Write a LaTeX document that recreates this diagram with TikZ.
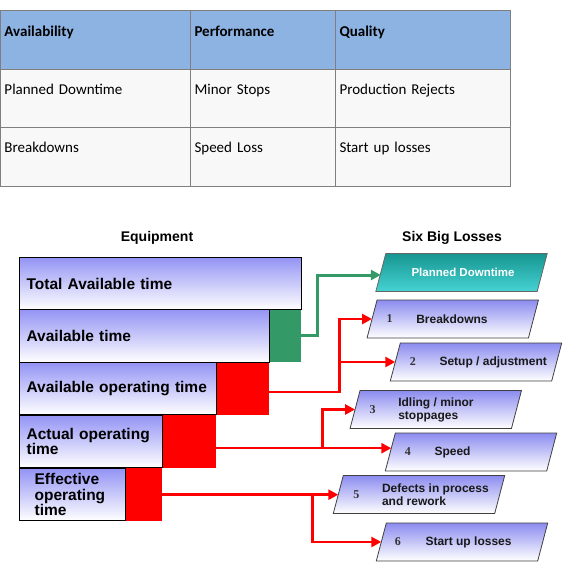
\documentclass[tikz,border=0pt]{standalone}
\usepackage{fontspec}
\setmainfont{Liberation Sans}
\newfontfamily\tabfont{Carlito}
\newfontfamily\numfont{Liberation Serif}
\usetikzlibrary{arrows.meta}
\definecolor{hdr}{HTML}{8DB3E2}
\definecolor{cellbg}{HTML}{F8F8F8}
\definecolor{gridc}{HTML}{7F7F7F}
\definecolor{barblue}{HTML}{9494F5}
\definecolor{lossgreen}{HTML}{339966}
\definecolor{tealtop}{HTML}{179591}
\definecolor{tealbot}{HTML}{45D3D3}
\definecolor{pgblue}{HTML}{8C8CF0}
\newcommand\pgmshape[2]{\shadedraw[#2] ([xshift=-5pt]#1.south west) -- ([xshift=-5pt]#1.south east) -- ([xshift=5pt]#1.north east) -- ([xshift=5pt]#1.north west) -- cycle;}
\begin{document}
\begin{tikzpicture}[x=1pt,y=-1pt,
  cell/.style={draw=gridc, line width=1pt, anchor=north west, inner xsep=4pt, inner ysep=0pt,
    align=left, font=\tabfont\fontsize{15}{18}\selectfont, text=black},
  hcell/.style={cell, fill=hdr, font=\tabfont\bfseries\fontsize{15}{18}\selectfont},
  bcell/.style={cell, fill=cellbg},
  bar/.style={anchor=north west, draw=black, line width=1.2pt, top color=barblue, bottom color=white,
    inner xsep=7pt, inner ysep=0pt, align=left, font=\bfseries\fontsize{15.5}{15}\selectfont, text=black},
  lossblk/.style={anchor=north west, draw=none, inner sep=0pt},
  ttl/.style={font=\bfseries\fontsize{14}{16}\selectfont, text=black},
  pbox/.style={minimum width=161pt, minimum height=37.5pt, inner sep=0pt, draw=none},
  pgm/.style={top color=pgblue, bottom color=white, draw=black!75, line width=0.8pt},
  pgmteal/.style={top color=tealtop, bottom color=tealbot, draw=black!60, line width=0.8pt},
  ptxt/.style={anchor=west, align=left, inner sep=0pt, font=\bfseries\fontsize{12}{13}\selectfont, text=black!90},
  pnum/.style={inner sep=0pt, font=\numfont\bfseries\fontsize{12}{13}\selectfont, text=black!80},
  rline/.style={draw=red, line width=2.5pt},
  rarr/.style={rline, -{Triangle[length=10pt,width=10pt]}},
  garr/.style={draw=lossgreen, line width=3pt, -{Triangle[length=10pt,width=10pt]}}
]
\useasboundingbox (0,0) rectangle (564,570);

% ---------- table ----------
\node[hcell, text width=182pt, text height=26pt, text depth=33pt] (c11) at (0,10) {Availability};
\node[hcell, text width=137pt, text height=26pt, text depth=33pt] (c12) at (190,10) {Performance};
\node[hcell, text width=167pt, text height=26pt, text depth=33pt] (c13) at (335,10) {Quality};
\node[bcell, text width=182pt, text height=25pt, text depth=33pt] (c21) at (0,69) {Planned Downtime};
\node[bcell, text width=137pt, text height=25pt, text depth=33pt] (c22) at (190,69) {Minor Stops};
\node[bcell, text width=167pt, text height=25pt, text depth=33pt] (c23) at (335,69) {Production Rejects};
\node[bcell, text width=182pt, text height=25pt, text depth=34pt] (c31) at (0,127) {Breakdowns};
\node[bcell, text width=137pt, text height=25pt, text depth=34pt] (c32) at (190,127) {Speed Loss};
\node[bcell, text width=167pt, text height=25pt, text depth=34pt] (c33) at (335,127) {Start up losses};

% ---------- titles ----------
\node[ttl] (eq) at (157,238) {Equipment};
\node[ttl] (sbl) at (452,238) {Six Big Losses};

% ---------- loss blocks ----------
\node[lossblk, fill=lossgreen, minimum width=32pt, minimum height=53pt] (g) at (269,309) {};
\node[lossblk, fill=red, minimum width=53pt, minimum height=53pt] (r1) at (216,362) {};
\node[lossblk, fill=red, minimum width=54pt, minimum height=53pt] (r2) at (162,415) {};
\node[lossblk, fill=red, minimum width=37pt, minimum height=53pt] (r3) at (125,468) {};

% ---------- equipment bars ----------
\node[bar, text width=268pt, minimum height=52pt] (a1) at (19,257) {Total Available time};
\node[bar, text width=236pt, minimum height=53pt] (a2) at (19,309) {Available time};
\node[bar, text width=183pt, minimum height=52pt] (a3) at (19,362) {Available operating time\\[5pt]};
\node[bar, text width=129pt, minimum height=52pt] (a4) at (19,415) {Actual operating\\time\\[-1pt]};
\node[bar, inner xsep=15pt, text width=76pt, minimum height=52pt] (a5) at (19,468) {Effective\\[0.5pt]operating\\[0.5pt]time};

% ---------- six big losses boxes ----------
\node[pbox] (pd) at (461.5,272.5) {};
\node[pbox] (b1) at (452.75,319) {};
\node[pbox] (b2) at (476,362) {};
\node[pbox] (b3) at (435.75,409.5) {};
\node[pbox] (b4) at (471,452) {};
\node[pbox] (b5) at (419,494.5) {};
\node[pbox] (b6) at (462,542) {};

\pgmshape{pd}{pgmteal}
\pgmshape{b1}{pgm}
\pgmshape{b2}{pgm}
\pgmshape{b3}{pgm}
\pgmshape{b4}{pgm}
\pgmshape{b5}{pgm}
\pgmshape{b6}{pgm}

\node[font=\bfseries\fontsize{11.5}{13}\selectfont, text=white] (pdt) at ([xshift=1.5pt]pd.center) {Planned Downtime};

\node[pnum] (n1) at ([xshift=17.5pt]b1.west) {1};
\node[ptxt] (t1) at ([xshift=44pt]b1.west) {Breakdowns};
\node[pnum] (n2) at ([xshift=17.5pt]b2.west) {2};
\node[ptxt] (t2) at ([xshift=44pt]b2.west) {Setup / adjustment};
\node[pnum] (n3) at ([xshift=17.5pt]b3.west) {3};
\node[ptxt] (t3) at ([xshift=43pt]b3.west) {Idling / minor\\stoppages};
\node[pnum] (n4) at ([xshift=17.5pt]b4.west) {4};
\node[ptxt] (t4) at ([xshift=44pt]b4.west) {Speed};
\node[pnum] (n5) at ([xshift=18pt]b5.west) {5};
\node[ptxt] (t5) at ([xshift=43.5pt]b5.west) {Defects in process\\and rework};
\node[pnum] (n6) at ([xshift=16.5pt]b6.west) {6};
\node[ptxt] (t6) at ([xshift=44pt]b6.west) {Start up losses};

% ---------- connectors ----------
\coordinate (jg) at ([xshift=16pt]g.east);
\draw[garr] (g.east) -- (jg) |- ([yshift=-2.5pt]pd.west);

\coordinate (s1) at ([yshift=-3.5pt]r1.east);
\coordinate (j1) at ([xshift=70pt]s1);
\draw[rarr] (s1) -- (j1) |- (b1.west);
\draw[rarr] (j1 |- b2.west) -- (b2.west);

\coordinate (s2) at ([yshift=-6.5pt]r2.east);
\coordinate (j2) at ([xshift=106pt]s2);
\draw[rarr] (s2) -- (j2) |- (b3.west);
\draw[rarr] (j2) -- ([xshift=1pt]j2 -| b4.west);

\coordinate (s3) at (r3.east);
\coordinate (j3) at ([xshift=150pt]s3);
\draw[rarr] (s3) -- (j3) |- (b6.west);
\draw[rarr] (j3) -- (j3 -| b5.west);
\end{tikzpicture}
\end{document}
